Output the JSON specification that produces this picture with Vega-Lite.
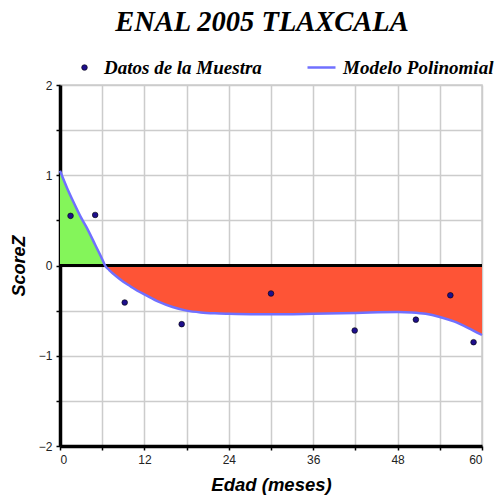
{
  "$schema": "https://vega.github.io/schema/vega-lite/v6.json",
  "autosize": "none",
  "width": 422,
  "height": 361,
  "padding": {"left": 60, "top": 85, "right": 19, "bottom": 49},
  "background": "white",
  "title": {
    "text": "ENAL 2005 TLAXCALA",
    "font": "Liberation Serif",
    "fontSize": 28.5,
    "fontStyle": "italic",
    "fontWeight": "bold",
    "color": "#000000",
    "anchor": "middle",
    "frame": "group",
    "dx": -9,
    "offset": 16
  },
  "config": {
    "view": {"stroke": "#cccccc", "strokeWidth": 1.5},
    "axis": {
      "labelFont": "Liberation Sans",
      "labelFontSize": 12,
      "labelColor": "#222222",
      "titleFont": "Liberation Sans",
      "titleFontStyle": "italic",
      "titleFontWeight": "bold",
      "titleColor": "#000000",
      "domainColor": "#000000",
      "domainWidth": 3.5,
      "tickColor": "#000000",
      "tickWidth": 1.5,
      "tickSize": 4,
      "gridColor": "#cccccc",
      "gridWidth": 1.5
    },
    "legend": {
      "title": null,
      "orient": "none",
      "direction": "horizontal",
      "labelFont": "Liberation Serif",
      "labelFontSize": 19,
      "labelFontStyle": "italic",
      "labelFontWeight": "bold",
      "labelColor": "#000000"
    }
  },
  "resolve": {"scale": {"color": "independent"}},
  "datasets": {
    "puntos": [
      {"x": 1.5, "y": 0.55, "serie": "Datos de la Muestra"},
      {"x": 5.0, "y": 0.56, "serie": "Datos de la Muestra"},
      {"x": 9.2, "y": -0.41, "serie": "Datos de la Muestra"},
      {"x": 17.3, "y": -0.65, "serie": "Datos de la Muestra"},
      {"x": 30.0, "y": -0.31, "serie": "Datos de la Muestra"},
      {"x": 41.9, "y": -0.72, "serie": "Datos de la Muestra"},
      {"x": 50.6, "y": -0.6, "serie": "Datos de la Muestra"},
      {"x": 55.5, "y": -0.33, "serie": "Datos de la Muestra"},
      {"x": 58.8, "y": -0.85, "serie": "Datos de la Muestra"}
    ],
    "curva": [
      {"x": 0, "y": 1.05, "serie": "Modelo Polinomial"},
      {"x": 1, "y": 0.86, "serie": "Modelo Polinomial"},
      {"x": 2, "y": 0.69, "serie": "Modelo Polinomial"},
      {"x": 3, "y": 0.53, "serie": "Modelo Polinomial"},
      {"x": 4, "y": 0.39, "serie": "Modelo Polinomial"},
      {"x": 5, "y": 0.23, "serie": "Modelo Polinomial"},
      {"x": 6, "y": 0.07, "serie": "Modelo Polinomial"},
      {"x": 6.4, "y": 0, "serie": "Modelo Polinomial"},
      {"x": 7, "y": -0.05, "serie": "Modelo Polinomial"},
      {"x": 8, "y": -0.12, "serie": "Modelo Polinomial"},
      {"x": 9, "y": -0.18, "serie": "Modelo Polinomial"},
      {"x": 10, "y": -0.23, "serie": "Modelo Polinomial"},
      {"x": 11, "y": -0.28, "serie": "Modelo Polinomial"},
      {"x": 12, "y": -0.32, "serie": "Modelo Polinomial"},
      {"x": 14, "y": -0.4, "serie": "Modelo Polinomial"},
      {"x": 16, "y": -0.46, "serie": "Modelo Polinomial"},
      {"x": 18, "y": -0.5, "serie": "Modelo Polinomial"},
      {"x": 20, "y": -0.52, "serie": "Modelo Polinomial"},
      {"x": 22, "y": -0.53, "serie": "Modelo Polinomial"},
      {"x": 24, "y": -0.535, "serie": "Modelo Polinomial"},
      {"x": 28, "y": -0.54, "serie": "Modelo Polinomial"},
      {"x": 32, "y": -0.54, "serie": "Modelo Polinomial"},
      {"x": 36, "y": -0.535, "serie": "Modelo Polinomial"},
      {"x": 40, "y": -0.53, "serie": "Modelo Polinomial"},
      {"x": 44, "y": -0.52, "serie": "Modelo Polinomial"},
      {"x": 48, "y": -0.515, "serie": "Modelo Polinomial"},
      {"x": 50, "y": -0.52, "serie": "Modelo Polinomial"},
      {"x": 52, "y": -0.535, "serie": "Modelo Polinomial"},
      {"x": 54, "y": -0.57, "serie": "Modelo Polinomial"},
      {"x": 56, "y": -0.62, "serie": "Modelo Polinomial"},
      {"x": 58, "y": -0.69, "serie": "Modelo Polinomial"},
      {"x": 60, "y": -0.77, "serie": "Modelo Polinomial"}
    ]
  },
  "encoding": {
    "x": {
      "field": "x",
      "type": "quantitative",
      "scale": {"domain": [0, 60], "nice": false, "zero": false},
      "axis": {
        "title": "Edad (meses)",
        "titleFontSize": 18.5,
        "values": [0, 6, 12, 18, 24, 30, 36, 42, 48, 54, 60],
        "labelExpr": "datum.value % 12 === 0 ? format(datum.value, 'd') : ''",
        "labelPadding": 4,
        "titlePadding": 10
      }
    },
    "y": {
      "field": "y",
      "type": "quantitative",
      "scale": {"domain": [-2, 2], "nice": false},
      "axis": {
        "title": "ScoreZ",
        "titleFontSize": 18,
        "values": [-2, -1.5, -1, -0.5, 0, 0.5, 1, 1.5, 2],
        "labelExpr": "datum.value % 1 === 0 ? format(datum.value, 'd') : ''",
        "labelPadding": 4,
        "titlePadding": 10
      }
    }
  },
  "layer": [
    {
      "data": {"name": "curva"},
      "transform": [{"filter": "datum.x <= 6.4"}],
      "mark": {"type": "area", "color": "#84f55a", "opacity": 1},
      "encoding": {"y2": {"datum": 0}}
    },
    {
      "data": {"name": "curva"},
      "transform": [{"filter": "datum.x >= 6.4"}],
      "mark": {"type": "area", "color": "#fe5436", "opacity": 1},
      "encoding": {"y2": {"datum": 0}}
    },
    {
      "data": {"name": "curva"},
      "mark": {"type": "rule", "color": "#000000", "strokeWidth": 3},
      "encoding": {"x": {"datum": 0}, "x2": {"datum": 60}, "y": {"datum": 0}}
    },
    {
      "data": {"name": "curva"},
      "mark": {"type": "line", "strokeWidth": 2.5, "interpolate": "monotone"},
      "encoding": {
        "color": {
          "field": "serie",
          "type": "nominal",
          "scale": {"domain": ["Modelo Polinomial"], "range": ["#7070ff"]},
          "legend": {
            "legendX": 246,
            "legendY": -33,
            "symbolType": "stroke",
            "symbolSize": 784,
            "symbolStrokeWidth": 2.5,
            "labelOffset": 6
          }
        }
      }
    },
    {
      "data": {"name": "puntos"},
      "mark": {"type": "point", "filled": true, "size": 32, "opacity": 1, "stroke": "#000000", "strokeWidth": 0.6},
      "encoding": {
        "color": {
          "field": "serie",
          "type": "nominal",
          "scale": {"domain": ["Datos de la Muestra"], "range": ["#1e0f8c"]},
          "legend": {
            "legendX": 15,
            "legendY": -27,
            "symbolType": "circle",
            "symbolSize": 32,
            "symbolStrokeColor": "#000000",
            "symbolStrokeWidth": 0.6,
            "labelOffset": 10
          }
        }
      }
    }
  ]
}
